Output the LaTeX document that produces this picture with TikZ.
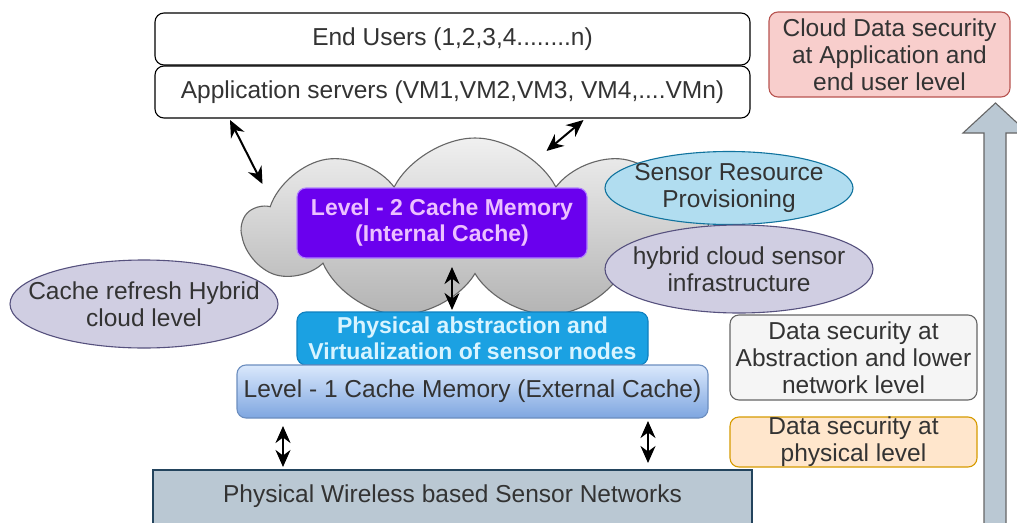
\documentclass[tikz,border=0pt]{standalone}
\usepackage{fontspec}
\setmainfont{Liberation Sans}
\usetikzlibrary{shapes.geometric,shapes.symbols,arrows.meta}
\definecolor{txt}{HTML}{333333}
\definecolor{purfill}{HTML}{6A00EE}
\definecolor{purdraw}{HTML}{B080FF}
\definecolor{purtext}{HTML}{ECC0FF}
\definecolor{pavfill}{HTML}{1BA1E2}
\definecolor{pavdraw}{HTML}{1080C0}
\definecolor{pavtext}{HTML}{D8F4FF}
\definecolor{lonetop}{HTML}{DAE8FC}
\definecolor{lonebot}{HTML}{7EA6E0}
\definecolor{lonedraw}{HTML}{6C8EBF}
\definecolor{cltop}{HTML}{F0F0F0}
\definecolor{clbot}{HTML}{B3B3B3}
\definecolor{cldraw}{HTML}{666666}
\definecolor{pwfill}{HTML}{BAC8D3}
\definecolor{pwdraw}{HTML}{23445D}
\definecolor{redfill}{HTML}{F8CECC}
\definecolor{reddraw}{HTML}{B85450}
\definecolor{grayfill}{HTML}{F5F5F5}
\definecolor{graydraw}{HTML}{666666}
\definecolor{orfill}{HTML}{FFE6CC}
\definecolor{ordraw}{HTML}{D79B00}
\definecolor{bluefill}{HTML}{B1DDF0}
\definecolor{bluedraw}{HTML}{10739E}
\definecolor{lavfill}{HTML}{D0CEE2}
\definecolor{lavdraw}{HTML}{56517E}
\newcommand{\rgfont}{\fontsize{24.5}{27}\selectfont}
\newcommand{\bdfont}{\fontsize{23}{26}\selectfont\bfseries}
\tikzset{
  base/.style={align=center, inner sep=0pt, outer sep=0pt, text=txt, font=\rgfont, line width=1.1pt},
  rbox/.style={base, draw, rounded corners=9pt},
  ell/.style={base, draw, ellipse},
  lbl/.style={base, draw=none},
  dbl/.style={{Stealth[length=17pt,width=15pt]}-{Stealth[length=17pt,width=15pt]}, line width=2pt, black},
}
\begin{document}
\begin{tikzpicture}[x=1pt,y=-1pt]
\useasboundingbox (0,0) rectangle (1017,522);
\fill[white] (0,0) rectangle (1017,522);

% top boxes
\node[rbox, fill=white, draw=black, minimum width=595pt, minimum height=52pt] (users) at (452.5,39) {End Users (1,2,3,4........n)};
\node[rbox, fill=white, draw=black, minimum width=595pt, minimum height=52pt] (app) at (452.5,92) {Application servers (VM1,VM2,VM3, VM4,....VMn)};

% cloud
\node[draw=cldraw, line width=1.1pt, cloud, cloud puffs=9, cloud puff arc=125, cloud ignores aspect,
      minimum width=463pt, minimum height=182pt, top color=cltop, bottom color=clbot, inner sep=0pt] (cloud) at (475,229) {};

% level 2
\node[rbox, fill=purfill, draw=purdraw, text=purtext, font=\bdfont, minimum width=290pt, minimum height=70pt] (l2) at (442,223) {Level - 2 Cache Memory\\(Internal Cache)};

% ellipses
\node[ell, fill=bluefill, draw=bluedraw, minimum width=248pt, minimum height=73pt,
      label={[lbl]center:Sensor Resource\\Provisioning}] (srp) at (729,188) {};
\node[ell, fill=lavfill, draw=lavdraw, minimum width=268pt, minimum height=88pt,
      label={[lbl]center:hybrid cloud sensor\\infrastructure}] (hyb) at (739,269) {};
\node[ell, fill=lavfill, draw=lavdraw, minimum width=268pt, minimum height=88pt,
      label={[lbl]center:Cache refresh Hybrid\\cloud level}] (crh) at (144,304) {};

% physical abstraction and level 1
\node[rbox, fill=pavfill, draw=pavdraw, text=pavtext, font=\bdfont, minimum width=351pt, minimum height=53pt] (pav) at (472.5,338.5) {Physical abstraction and\\Virtualization of sensor nodes};
\node[rbox, top color=lonetop, bottom color=lonebot, draw=lonedraw, minimum width=471pt, minimum height=53pt] (l1) at (472.5,391.5) {Level - 1 Cache Memory (External Cache)};

% right column
\node[rbox, fill=redfill, draw=reddraw, minimum width=241pt, minimum height=85pt] (cds) at (889.5,54.5) {Cloud Data security\\at Application and\\end user level};
\node[rbox, fill=grayfill, draw=graydraw, minimum width=247pt, minimum height=85pt] (dsa) at (853.5,357.5) {Data security at\\Abstraction and lower\\network level};
\node[rbox, fill=orfill, draw=ordraw, minimum width=247pt, minimum height=50pt] (dsp) at (853.5,442) {Data security at\\physical level};

\begin{scope}
\clip (0,0) rectangle (1017,522);
% bottom box
\node[base, draw=pwdraw, fill=pwfill, minimum width=599pt, minimum height=70pt] (pw) at (452.5,505) {};
\node[lbl, anchor=center] (pwtext) at (452.5,496) {Physical Wireless based Sensor Networks};
% big up arrow
\draw[fill=pwfill, draw=graydraw, line width=1.1pt] (984,530) -- (984,133) -- (963,133) -- (995.5,103) -- (1028,133) -- (1006,133) -- (1006,530) -- cycle;
\end{scope}

% connectors
\draw[dbl] ([xshift=-222.5pt,yshift=-2pt]app.south) -- ([xshift=-212.5pt,yshift=45pt]cloud.center);
\draw[dbl] ([xshift=131pt,yshift=-2pt]app.south) -- ([xshift=71.5pt,yshift=78pt]cloud.center);
\draw[dbl] ([xshift=10pt,yshift=-9pt]l2.south) -- ([xshift=-20.5pt,yshift=2pt]pav.north);
\draw[dbl] ([xshift=-189.5pt,yshift=-8pt]l1.south) -- ([xshift=-169.5pt,yshift=3pt]pw.north);
\draw[dbl] ([xshift=175.5pt,yshift=-3pt]l1.south) -- ([xshift=195.5pt,yshift=7pt]pw.north);
\end{tikzpicture}
\end{document}
